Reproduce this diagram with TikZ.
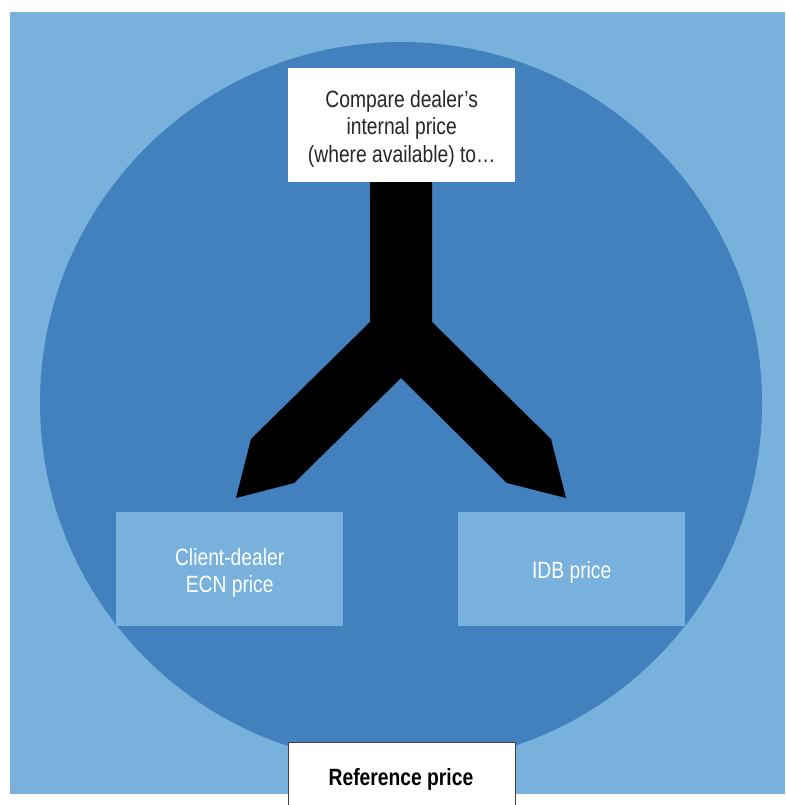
\documentclass[tikz,border=0pt]{standalone}
\usepackage{fontspec}
\setmainfont[FakeStretch=0.82]{Liberation Sans}
\definecolor{paleblue}{RGB}{120,178,220}
\definecolor{deepblue}{RGB}{66,128,190}
\begin{document}
\begin{tikzpicture}[x=1pt,y=-1pt,
  txt/.style={font=\fontsize{23.5}{27.5}\selectfont, align=center, inner sep=0pt},
  boxshape/.style={minimum width=227pt, minimum height=114pt, anchor=north west, inner sep=0pt},
  panel/.style={boxshape, fill=paleblue},
  whitebox/.style={boxshape, fill=white}]
\useasboundingbox (0,0) rectangle (785,805);
\clip (0,0) rectangle (785,805);
% backdrop and disc
\fill[paleblue] (10,12) rectangle (785,794);
\fill[deepblue] (401,403) circle[radius=361];
% forked arrow
\fill[black] (370,180) -- (432,180) -- (432,322) -- (551,439) -- (566,498) -- (507,483)
  -- (401,378) -- (294,483) -- (236,498) -- (251,439) -- (370,322) -- cycle;
% boxes
\node[whitebox] (top) at (288,68) {};
\node[panel] (ecn) at (116,512) {};
\node[panel] (idb) at (458,512) {};
\node[whitebox, draw=black!75, line width=0.8pt, minimum height=80pt] (ref) at (288,742) {};
% labels
\node[txt, text=black!85] (toplabel) at ([yshift=-3.5pt]top.center) {Compare dealer's\\internal price\\(where available) to\dots};
\node[txt, text=white] (ecnlabel) at ([yshift=-3.5pt]ecn.center) {Client-dealer\\ECN price};
\node[txt, text=white] (idblabel) at ([yshift=-3.5pt]idb.center) {IDB price};
\node[txt, font=\fontsize{23.5}{27.5}\selectfont\bfseries, text=black] (reflabel) at (401,779) {Reference price};
\end{tikzpicture}
\end{document}
